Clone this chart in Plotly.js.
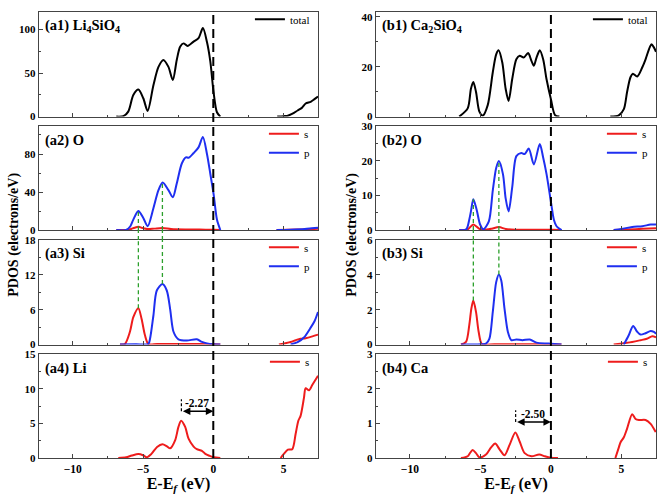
<!DOCTYPE html>
<html><head><meta charset="utf-8">
<script src="https://cdn.plot.ly/plotly-3.0.1.min.js"></script>
<style>html,body{margin:0;padding:0;background:#fff}</style>
</head><body>
<div id="chart" style="width:661px;height:500px"></div>
<script>
// ---------- Li4SiO4 (left column) ----------
const a1TotE = [-6.9,-6.4,-6.05,-5.69,-5.33,-4.98,-4.67,-4.26,-3.9,-3.55,-3.19,-2.88,-2.6,-2.36,-2.12,-1.83,-1.4,-1.05,-0.74,-0.45,-0.21,0.02,0.26,0.5,null,4.55,5.0,5.3,5.6,6.0,6.3,6.57,6.93,7.2,7.45];
const a1TotV = [0,0.5,5.7,24.7,31,21,6.5,36,57,65,57,42,65,80,84,81,86,90,101.5,85.5,63,28,5,0,null,0,0.5,1,3,7,10,15,17,20,23];

const a2OpE = [-6.9,-6.2,-5.9,-5.69,-5.33,-4.98,-4.67,-4.26,-3.9,-3.6,-3.19,-2.88,-2.6,-2.24,-1.95,-1.75,-1.4,-1.05,-0.74,-0.45,-0.21,0.02,0.26,0.5,null,4.5,5.5,6.5,7.0,7.45];
const a2OpV = [0,0,4,11,20,12.7,4,23,42,50,42,34.5,49,70,76.5,76,81,87,98,80,59,38,11,0,null,0,0.3,1,1.8,2.5];
const a2OsE = [-6.9,-6.0,-5.6,-5.33,-5.0,-4.67,-4.2,-3.6,-3.0,-2.0,-1.0,0.0,0.5,null,4.5,6.0,7.0,7.45];
const a2OsV = [0,0.3,2.5,3.5,2,1,1.5,2.2,1.0,0.5,0.5,0.3,0,null,0,0.5,1.0,1.3];

const a3SsE = [-6.64,-6.29,-5.93,-5.69,-5.33,-5.1,-4.86,-4.62,-4.0,-2.0,0.0,0.5,null,4.67,5.5,5.86,6.2,6.57,7.05,7.45];
const a3SsV = [0,0.1,2.2,4.7,6.26,4.4,1.6,0.1,0.1,0.1,0.05,0,null,0,0.45,0.75,1.0,1.1,1.4,1.7];
const a3SpE = [-6.64,-5.5,-4.62,-4.5,-4.26,-4.02,-3.62,-3.31,-3.07,-2.83,-2.48,-1.88,-1.17,-0.81,-0.45,0.0,0.5,null,5.5,6.0,6.45,6.9,7.2,7.45];
const a3SpV = [0,0.05,0.1,1.0,5.0,9.3,10.4,9.3,6.1,2.2,0.9,0.7,0.9,0.45,0.2,0.05,0,null,0,0.4,1.2,2.8,4.0,5.6];

const a4LisE = [-6.76,-6.2,-5.8,-5.33,-5.0,-4.74,-4.4,-4.0,-3.62,-3.3,-3.07,-2.71,-2.48,-2.29,-2.0,-1.76,-1.4,-1.17,-0.81,-0.57,-0.25,0.02,0.5,null,4.79,5.02,5.31,5.62,5.86,6.05,6.21,6.45,6.57,6.81,7.05,7.45];
const a4LisV = [0,0.1,0.35,0.57,0.4,0.1,0.6,1.6,2.0,1.7,1.4,2.6,4.5,5.4,4.5,2.8,1.65,1.27,1.04,0.6,0.3,0.1,0,null,0,0.6,1.2,1.27,3.5,5.4,6.1,8.7,10.1,9.8,10.6,11.9];

// ---------- Ca2SiO4 (right column) ----------
const b1TotE = [-6.5,-5.9,-5.67,-5.5,-5.31,-5.07,-4.83,-4.48,-4.12,-3.88,-3.71,-3.45,-3.21,-3.0,-2.74,-2.45,-2.21,-1.93,-1.62,-1.38,-1.21,-1.02,-0.79,-0.55,-0.31,0.0,0.29,0.6,null,4.21,4.81,5.17,5.4,5.64,5.81,6.12,6.48,6.71,6.95,7.12,7.31,7.45];
const b1TotV = [0,3.3,11.2,13.9,9.9,2,0.4,4.6,17.8,25,26.6,21.8,11.2,6.3,15.2,23,24.4,23.7,25.5,22.4,20.4,23.7,26.6,23,15,7,0.6,0,null,0,0.5,3,9.9,15.8,17.2,16.1,19.8,23,27,29,27.7,26];

const b2OpE = [-6.5,-6.0,-5.79,-5.67,-5.5,-5.26,-5.02,-4.79,-4.4,-4.12,-3.88,-3.69,-3.4,-3.21,-3.0,-2.74,-2.45,-2.1,-1.86,-1.57,-1.21,-0.79,-0.55,-0.31,0.0,0.21,0.4,0.76,null,4.45,5.0,5.76,6.48,7.07,7.45];
const b2OpV = [0,0.2,3,5.4,8.9,5.8,1.6,0.2,2.5,11.5,18,20,16.2,9.2,5.4,12.5,21.4,22.3,22,23.6,19,24.9,21,16.2,8.2,3,1.1,0,null,0,0.3,0.9,1.1,1.6,1.6];
const b2OsE = [-6.5,-5.9,-5.5,-5.1,-4.8,-4.2,-3.69,-3.2,-2.5,-1.0,0.0,0.75,null,4.45,5.5,6.5,7.45];
const b2OsV = [0,0.2,1.6,0.4,0.1,0.4,0.85,0.3,0.1,0.1,0.05,0,null,0,0.15,0.35,0.5];

const b3SsE = [-6.38,-6.02,-5.79,-5.64,-5.5,-5.31,-5.12,-4.88,-4.0,-2.0,0.0,0.75,null,4.45,5.76,6.36,6.8,7.19,7.45];
const b3SsV = [0,0.15,1.1,2.06,2.53,1.87,0.72,0.02,0.02,0.02,0.01,0,null,0,0.15,0.25,0.33,0.47,0.42];
const b3SpE = [-6.38,-4.9,-4.6,-4.36,-4.12,-3.88,-3.69,-3.52,-3.29,-3.05,-2.81,-2.45,-2.02,-1.5,-1.02,-0.31,0.0,0.75,null,5.17,5.5,5.83,6.1,6.36,6.7,7.07,7.3,7.45];
const b3SpV = [0,0.01,0.05,0.34,1.87,3.58,4.02,3.68,2.06,0.72,0.25,0.29,0.25,0.29,0.11,0.06,0.05,0,null,0,0.5,1.07,0.75,0.57,0.65,0.78,0.72,0.62];

const b4CasE = [-6.38,-5.9,-5.74,-5.55,-5.31,-5.07,-4.6,-4.24,-3.95,-3.64,-3.29,-2.93,-2.52,-2.21,-1.86,-1.38,-0.83,-0.43,0.0,0.5,null,4.57,4.81,4.93,5.17,5.4,5.76,6.0,6.24,6.71,7.07,7.43];
const b4CasV = [0,0.05,0.14,0.23,0.14,0.02,0.1,0.31,0.42,0.25,0.08,0.38,0.74,0.47,0.14,0.05,0.1,0.05,0.01,0,null,0,0.3,0.45,0.6,0.85,1.27,1.13,1.1,1.1,0.99,0.75];

// labels / ranges
const leftLabels  = ['(a1) Li<sub>4</sub>SiO<sub>4</sub>','(a2) O','(a3) Si','(a4) Li'];
const rightLabels = ['(b1) Ca<sub>2</sub>SiO<sub>4</sub>','(b2) O','(b3) Si','(b4) Ca'];
const leftYMax  = [120,109,18,15];
const rightYMax = [42,30,6,3];
const leftDtick  = [50,40,6,5];
const rightDtick = [20,10,2,1];
const xRange = [-12.4,7.45];
const xTickVals = [-10,-5,0,5];

// green guide lines: energies, peak in O panel, peak in Si panel
const leftGuideE = [-5.33,-3.62];  const leftGuideO = [20,50];  const leftGuideSi = [6.26,10.4];
const rightGuideE = [-5.5,-3.69];  const rightGuideO = [8.9,20]; const rightGuideSi = [2.53,4.02];

// shift annotations
const shiftVals = [-2.27,-2.50];
const shiftLabels = ['-2.27','-2.50'];
const shiftArrowY = [6.75,1.04];
const shiftTickTop = [8.5,1.38];
const shiftLabelY = [7.9,1.27];

const RED = '#ee1c1c', BLUE = '#1f2ff0', BLACK = '#000000', GREEN = '#2ca02c';
const FONT = '"Liberation Serif", "Times New Roman", Times, serif';

const X_LEFT = [0,0.4522], X_RIGHT = [0.5462,1];
const Y_DOM = [[0.7655,1],[0.5111,0.7434],[0.2544,0.4889],[0,0.2323]];

const traces = [];
function add(x,y,color,name,idx,leg){
  traces.push({x:x,y:y,type:'scatter',mode:'lines',name:name,
    line:{color:color,width:2,shape:'spline',smoothing:0.8},
    xaxis:'x'+(idx===1?'':idx), yaxis:'y'+(idx===1?'':idx),
    legend: leg, showlegend:true, connectgaps:false, hoverinfo:'skip'});
}
add(a1TotE,a1TotV,BLACK,'total',1,'legend');
add(a2OsE,a2OsV,RED,'s',2,'legend2');
add(a2OpE,a2OpV,BLUE,'p',2,'legend2');
add(a3SsE,a3SsV,RED,'s',3,'legend3');
add(a3SpE,a3SpV,BLUE,'p',3,'legend3');
add(a4LisE,a4LisV,RED,'s',4,'legend4');
add(b1TotE,b1TotV,BLACK,'total',5,'legend5');
add(b2OsE,b2OsV,RED,'s',6,'legend6');
add(b2OpE,b2OpV,BLUE,'p',6,'legend6');
add(b3SsE,b3SsV,RED,'s',7,'legend7');
add(b3SpE,b3SpV,BLUE,'p',7,'legend7');
add(b4CasE,b4CasV,RED,'s',8,'legend8');

const layout = {
  width:661, height:500,
  margin:{l:39,r:5,t:6,b:42},
  paper_bgcolor:'#fff', plot_bgcolor:'#fff',
  font:{family:FONT,size:11,color:'#000',weight:'bold'},
  shapes:[], annotations:[]
};

for(let col=0; col<2; col++){
  for(let r=0;r<4;r++){
    const idx = col*4 + r + 1;
    const sfx = idx===1?'':idx;
    const ymax = col===0?leftYMax[r]:rightYMax[r];
    const dt = col===0?leftDtick[r]:rightDtick[r];
    layout['xaxis'+sfx] = {
      domain: col===0?X_LEFT:X_RIGHT, anchor:'y'+sfx, range:xRange,
      showgrid:false, zeroline:false, showline:true, mirror:true, linecolor:'#444', linewidth:1.3,
      ticks:'inside', ticklen:4, tickcolor:'#444', tickvals:xTickVals,
      minor:{ticks:'inside', ticklen:2, tickcolor:'#444', tickvals:[-12.5,-7.5,-2.5,2.5]},
      showticklabels: r===3,
      tickfont:{family:FONT,size:11.5,weight:'bold'}
    };
    if(r===3){
      layout['xaxis'+sfx].title = {text:'E-E<sub><i>f</i></sub> (eV)', font:{family:FONT,size:16,weight:'bold'}, standoff:3};
    }
    layout['yaxis'+sfx] = {
      domain: Y_DOM[r], anchor:'x'+sfx, range:[0,ymax],
      showgrid:false, zeroline:false, showline:true, mirror:true, linecolor:'#444', linewidth:1.3,
      ticks:'inside', ticklen:4, tickcolor:'#444', dtick:dt, tick0:0,
      minor:{ticks:'inside', ticklen:2, tickcolor:'#444', dtick:dt/2, tick0:0},
      tickfont:{family:FONT,size:11,weight:'bold'}
    };
    // panel label
    layout.annotations.push({xref:'x'+sfx+' domain', yref:'y'+sfx+' domain', x:0.015, y:0.97,
      xanchor:'left', yanchor:'top', showarrow:false,
      text:(col===0?leftLabels:rightLabels)[r], font:{family:FONT,size:14.5,weight:'bold'}});
    // legend
    const lname = idx===1?'legend':'legend'+idx;
    layout[lname] = {x:(col===0?X_LEFT[1]:X_RIGHT[1]) - 0.005, xanchor:'right',
      y:Y_DOM[r][1] + 0.016, yanchor:'top', bgcolor:'rgba(0,0,0,0)',
      font:{family:FONT,size:11,weight:'normal'}, tracegroupgap:0, itemwidth:30};
  }
  // zero dashed line spanning the column
  layout.shapes.push({type:'line', xref:col===0?'x':'x5', yref:'paper', x0:0, x1:0, y0:0, y1:1,
    line:{color:'#000',width:2,dash:'9px,5px'}});
}

// green guides
function guides(E,Opk,Sipk,xO,xSi,siTop){
  for(let i=0;i<E.length;i++){
    const ln = {color:GREEN,width:1.3,dash:'4px,3px'};
    layout.shapes.push({type:'line',xref:'x'+xO,yref:'y'+xO,x0:E[i],x1:E[i],y0:0,y1:Opk[i],line:ln});
    layout.shapes.push({type:'line',xref:'x'+xSi,yref:'y'+xSi,x0:E[i],x1:E[i],y0:Sipk[i],y1:siTop,line:ln});
    layout.shapes.push({type:'line',xref:'x'+xO,yref:'paper',x0:E[i],x1:E[i],y0:Y_DOM[2][1],y1:Y_DOM[1][0],line:ln});
  }
}
guides(leftGuideE,leftGuideO,leftGuideSi,2,3,leftYMax[2]);
guides(rightGuideE,rightGuideO,rightGuideSi,6,7,rightYMax[2]);

// shift arrows
[4,8].forEach((ax,i)=>{
  layout.annotations.push({xref:'x'+ax,yref:'y'+ax,x:0,y:shiftArrowY[i],ax:shiftVals[i],ay:shiftArrowY[i],
    axref:'x'+ax,ayref:'y'+ax,showarrow:true,arrowside:'end+start',arrowhead:2,arrowsize:1,arrowwidth:1.5,
    arrowcolor:'#000',text:'',standoff:0,startstandoff:0});
  layout.annotations.push({xref:'x'+ax,yref:'y'+ax,x:shiftVals[i]/2,y:shiftLabelY[i],showarrow:false,
    text:shiftLabels[i],font:{family:FONT,size:11.5,weight:'bold'}});
  layout.shapes.push({type:'line',xref:'x'+ax,yref:'y'+ax,x0:shiftVals[i],x1:shiftVals[i],
    y0:shiftArrowY[i],y1:shiftTickTop[i],line:{color:'#000',width:1.2,dash:'3px,2px'}});
});

// y titles
[ -0.041, 0.507 ].forEach(xp=>{
  layout.annotations.push({xref:'paper',yref:'paper',x:xp,y:0.5,textangle:-90,showarrow:false,
    xanchor:'center',yanchor:'middle',text:'PDOS (electrons/eV)',font:{family:FONT,size:14,weight:'bold'}});
});

Plotly.newPlot('chart',traces,layout,{displayModeBar:false,staticPlot:true});
</script></body></html>
